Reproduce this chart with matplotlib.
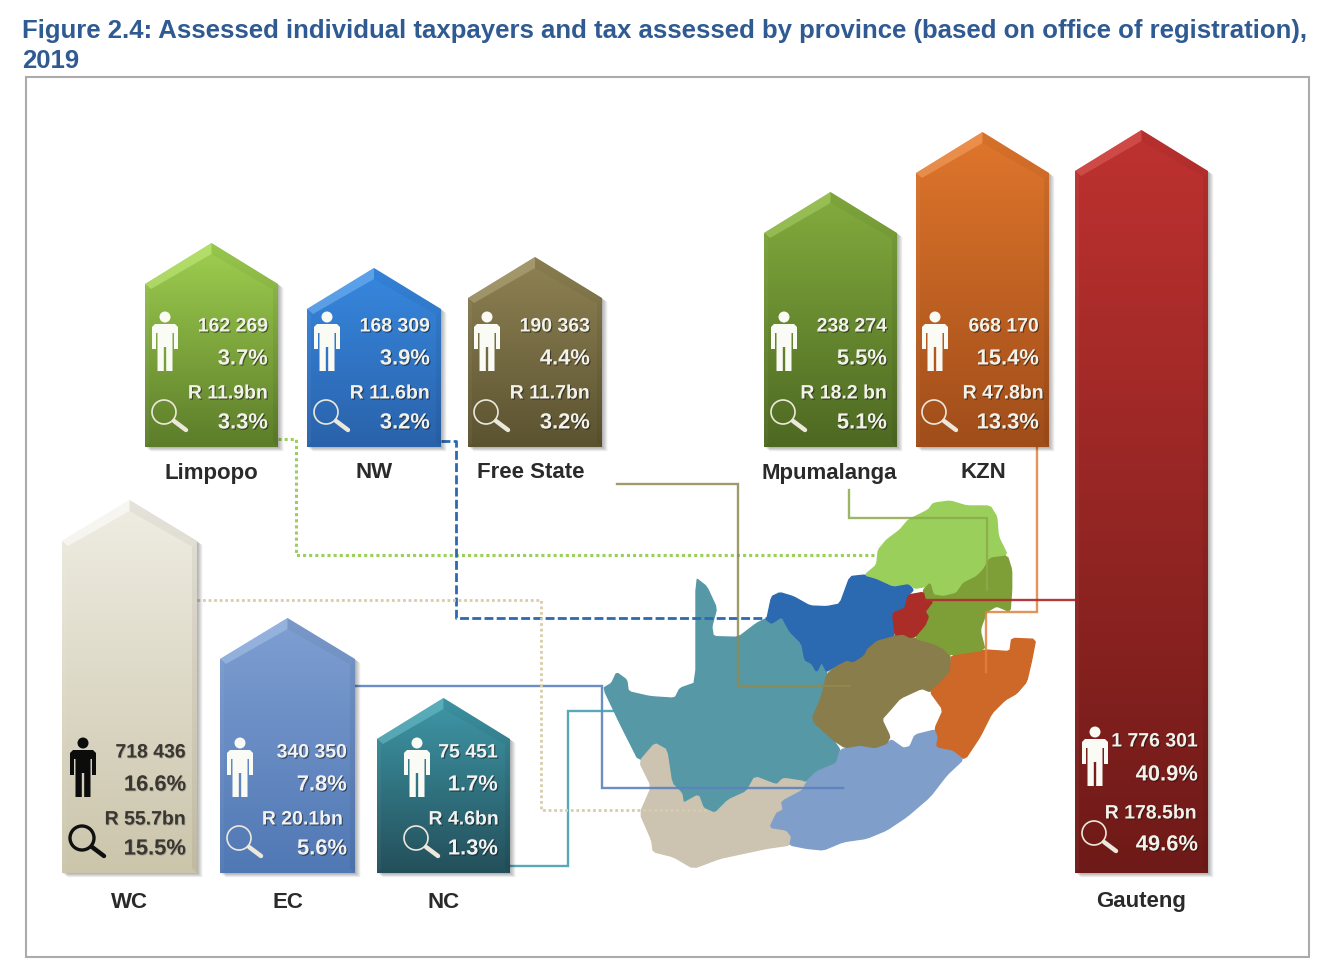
import numpy as np
import matplotlib
matplotlib.use("Agg")
import matplotlib.pyplot as plt
import matplotlib.patheffects as pe
from matplotlib.colors import LinearSegmentedColormap
from matplotlib.patches import Polygon, Circle

plt.rcParams['font.family'] = ['Liberation Sans', 'DejaVu Sans']

# ---------- data ----------
provinces = ["Limpopo", "NW", "Free State", "Mpumalanga", "KZN", "Gauteng", "WC", "EC", "NC"]
taxpayers = ["162 269", "168 309", "190 363", "238 274", "668 170", "1 776 301", "718 436", "340 350", "75 451"]
taxpayer_share = [3.7, 3.9, 4.4, 5.5, 15.4, 40.9, 16.6, 7.8, 1.7]
tax_assessed = ["R 11.9bn", "R 11.6bn", "R 11.7bn", "R 18.2 bn", "R 47.8bn", "R 178.5bn", "R 55.7bn", "R 20.1bn", "R 4.6bn"]
tax_share = [3.3, 3.2, 3.2, 5.1, 13.3, 49.6, 15.5, 5.6, 1.3]
title_lines = ["Figure 2.4: Assessed individual taxpayers and tax assessed by province (based on office of registration),", "2019"]

# ---------- layout (pixels) ----------
W, H = 1330, 964
lefts = [145, 307, 468, 764, 916, 1075, 62, 220, 377]
rights = [278, 441, 602, 897, 1049, 1208, 197, 355, 510]
apexes = [243, 268, 257, 192, 132, 130, 500, 618, 698]
bottoms = [447, 447, 447, 447, 447, 873, 873, 873, 873]
person_x = [165, 327, 487, 784, 935, 1095, 83, 240, 417]
text_right = [268, 430, 590, 887, 1039, 1198, 186, 347, 498]
tax_right = [268, 430, 590, 887, 1044, 1197, 186, 343, 499]
tops = ['#9FD050', '#3788E0', '#8F8354', '#83AD3E', '#E0762C', '#BE3230', '#EFEDE3', '#7F9FD2', '#3F98A8']
bots = ['#5C7C2A', '#2A62AA', '#5B5230', '#4D6822', '#A04D1A', '#6E1A18', '#CBC5AB', '#5078B4', '#234F5A']
light = ['#C4EC80', '#7AB8F4', '#B5AA80', '#AAD068', '#F6A468', '#DE605A', '#FFFFFF', '#A8C4E8', '#70C0CC']
text_col = ['#F2F2EA'] * 6 + ['#3A3630'] + ['#F2F2F2'] * 2

# Map outlines, in zoomed-crop coordinates
map_regions = {
 'NC': ('#5698A6', [(288,295),(320,320),(350,385),(335,440),(340,470),(415,472),(470,430),(500,415),(540,410),(570,455),(605,490),(615,540),(635,550),(650,575),(665,545),(680,575),(680,585),(665,650),(635,720),(700,780),(720,810),(710,850),(650,875),(620,905),(550,895),(530,915),(465,890),(440,935),(385,960),(345,1000),(310,985),(295,945),(250,970),(245,940),(215,910),(200,810),(165,790),(118,845),(60,730),(10,625),(35,610),(50,578),(80,600),(85,635),(150,650),(225,655),(240,625),(288,608)]),
 'WC': ('#CCC3B0', [(118,845),(165,790),(200,810),(215,910),(245,940),(250,970),(295,945),(310,985),(345,1000),(385,960),(440,935),(465,890),(530,915),(550,895),(615,905),(610,930),(545,965),(550,990),(530,1000),(510,1042),(560,1050),(575,1070),(570,1095),(500,1105),(430,1120),(360,1135),(280,1165),(220,1130),(160,1115),(155,1080),(120,1000),(155,920)]),
 'EC': ('#7F9EC9', [(1005,750),(1015,770),(1010,800),(1060,810),(1090,838),(1040,885),(990,950),(920,1010),(860,1050),(800,1075),(730,1085),(670,1110),(620,1105),(570,1095),(575,1070),(560,1050),(510,1042),(530,1000),(550,990),(545,965),(610,930),(620,905),(650,875),(710,850),(720,810),(780,795),(825,803),(860,790),(875,780),(910,805),(930,800),(945,765)]),
 'FS': ('#897D4B', [(680,585),(710,555),(740,540),(760,545),(790,525),(800,505),(830,480),(885,465),(910,462),(930,472),(945,475),(1000,490),(1030,505),(1050,525),(1052,575),(1020,610),(990,635),(965,625),(900,655),(870,690),(845,718),(870,770),(860,790),(825,803),(780,795),(735,803),(700,780),(635,720),(665,650)]),
 'KZN': ('#CD6828', [(1055,525),(1155,510),(1230,515),(1235,475),(1307,478),(1295,540),(1280,605),(1250,640),(1215,660),(1175,700),(1140,770),(1095,838),(1060,810),(1010,800),(1015,770),(1005,745),(1030,690),(990,635),(1020,610),(1052,575)]),
 'NW': ('#2B69B1', [(500,420),(515,350),(540,338),(580,350),(630,378),(680,380),(720,372),(750,290),(795,285),(830,295),(880,318),(925,310),(940,330),(925,345),(915,385),(878,400),(885,465),(830,480),(800,505),(790,525),(760,545),(740,540),(710,555),(680,575),(665,545),(650,575),(635,550),(615,540),(605,490),(570,455),(545,410),(515,430)]),
 'LP': ('#9BCF5C', [(795,285),(830,255),(835,210),(860,180),(900,150),(925,120),(985,90),(1000,70),(1050,63),(1100,78),(1170,78),(1190,110),(1195,170),(1222,225),(1170,235),(1150,270),(1130,290),(1090,310),(1070,340),(1030,350),(1000,345),(990,310),(975,320),(945,325),(925,310),(880,318),(830,295)]),
 'MP': ('#7E9E38', [(1222,228),(1235,270),(1235,330),(1230,395),(1190,378),(1160,395),(1140,450),(1155,510),(1050,525),(1030,505),(1000,490),(945,475),(975,430),(985,410),(975,395),(998,365),(975,355),(970,330),(990,310),(1000,345),(1030,350),(1070,340),(1090,310),(1130,290),(1150,270),(1170,235)]),
 'GP': ('#AA2D28', [(925,345),(970,337),(975,358),(998,365),(975,395),(985,410),(975,435),(945,470),(930,472),(910,462),(885,465),(878,400),(915,385)]),
}

# Connector routes from each house to its province
connectors = [
 ([(278,439),(296,439),(296,555),(877,555)], '#9BCF5C', (0,(1,1)), 1.0, 2.2),
 ([(441,441),(456,441),(456,618),(770,618)], '#2B69B1', (0,(3.2,1.2)), 1.0, 2.0),
 ([(617,484),(738,484),(738,686),(850,686)], '#8F8A50', '-', .85, 1.7),
 ([(849,490),(849,518),(987,518),(987,590)], '#8BAA4A', '-', .85, 1.7),
 ([(1037,447),(1037,612),(986,612),(986,672)], '#E0823C', '-', .85, 1.7),
 ([(1075,600),(925,600)], '#B03030', '-', .95, 1.7),
 ([(355,686),(602,686),(602,788),(843,788)], '#5C82BE', '-', .9, 1.7),
 ([(510,866),(568,866),(568,711),(615,711)], '#45A0B0', '-', .9, 1.7),
 ([(197,600),(541,600),(541,810),(708,810)], '#D8CDA8', (0,(1,1)), 1.0, 2.0),
]


def round_corners(pts, cut=.12):
    """Cut polygon corners slightly so the traced outlines look less angular."""
    p = np.asarray(pts, float)
    n = np.roll(p, -1, axis=0)
    return np.column_stack([(1 - cut) * p + cut * n, cut * p + (1 - cut) * n]).reshape(-1, 2)


fig = plt.figure(figsize=(W / 100, H / 100), dpi=100)
ax = fig.add_axes([0, 0, 1, 1])
ax.set_axis_off()

# Title and frame
for line, y in zip(title_lines, [31, 61]):
    ax.text(22, y, line, color='#2F5B92', fontsize=18.5, fontweight='bold', va='center', ha='left')
ax.add_patch(plt.Rectangle((25.5, 77), 1283, 880, fill=False, ec='#ABABAB', lw=1.5))

# Map
for name, (col, pts) in map_regions.items():
    xy = round_corners([(600 + x / 3, 480 + y / 3) for x, y in pts])
    ax.add_patch(Polygon(xy, closed=True, fc=col, ec=col, lw=1.0, joinstyle='round', zorder=2))

# Connectors
for pts, col, ls, a, lw in connectors:
    xs, ys = zip(*pts)
    ax.plot(xs, ys, color=col, ls=ls, lw=lw, alpha=a, zorder=3, solid_joinstyle='miter')

body = np.array([(-10,13),(10,13),(13,16),(13,38),(9,38),(9,22),(7.5,22),(7.5,60),(1.2,60),(1.2,36),(-1.2,36),(-1.2,60),
                 (-7.5,60),(-7.5,22),(-9,22),(-9,38),(-13,38),(-13,16)], float)
shadow_fx = [pe.SimplePatchShadow(offset=(.8, -.8), shadow_rgbFace='#111111', alpha=.55), pe.Normal()]
shadow_dk = [pe.SimplePatchShadow(offset=(.6, -.6), shadow_rgbFace='#777777', alpha=.5), pe.Normal()]

for i, name in enumerate(provinces):
    l, r, a, b = lefts[i], rights[i], apexes[i], bottoms[i]
    cx = (l + r) / 2
    sh = a + 41
    outline = [(l, b), (l, sh), (cx, a), (r, sh), (r, b)]
    # soft shadow
    for k in range(1, 7):
        ax.add_patch(Polygon([(x + k * .9, y + k * .7) for x, y in outline], fc='k', ec='none', alpha=.055, zorder=4))
    # gradient body
    cmap = LinearSegmentedColormap.from_list('h', [tops[i], bots[i]])
    grad = np.linspace(0, 1, 256).reshape(-1, 1)
    im = ax.imshow(grad, cmap=cmap, extent=(l, r, b, a), aspect='auto', zorder=5, origin='upper')
    clip = Polygon(outline, transform=ax.transData, fc='none', ec='none')
    ax.add_patch(clip)
    im.set_clip_path(clip)
    # bevels
    ax.add_patch(Polygon([(l, sh), (cx, a), (cx, a + 11), (l + 6, sh + 5)], fc=light[i], ec='none', alpha=.55, zorder=6))
    ax.add_patch(Polygon([(r, sh), (cx, a), (cx, a + 11), (r - 6, sh + 5)], fc='k', ec='none', alpha=.04, zorder=6))
    ax.add_patch(Polygon([(r, sh), (r, b), (r - 5, b - 5), (r - 5, sh + 5)], fc='k', ec='none', alpha=.05, zorder=6))
    ax.add_patch(Polygon([(l, sh), (l, b), (l + 4, b - 4), (l + 4, sh + 5)], fc='w', ec='none', alpha=.04, zorder=6))

    # rows of the text block and icons
    if name == "Gauteng":
        rows = [b - 131, b - 98, b - 59, b - 28]
        top, lens = b - 147, b - 40
    else:
        rows = [b - 120, b - 88, b - 53, b - 24]
        top, lens = b - 136, b - 35
    tc = text_col[i]
    fx = shadow_dk if name == "WC" else shadow_fx
    px = person_x[i]

    icon = '#0C0C0C' if name == "WC" else '#FBFBF6'
    ax.add_patch(Circle((px, top + 6), 5.5, fc=icon, ec='none', zorder=7))
    ax.add_patch(Polygon(body + [px, top], fc=icon, ec='none', zorder=7))
    ring = '#101010' if name == "WC" else '#EDE8DC'
    ax.add_patch(Circle((px - 1, lens), 12, fc='none', ec=ring, lw=2.4 if name == "WC" else 1.2, zorder=7))
    ax.plot([px + 9, px + 21], [lens + 9, lens + 18], color=ring, lw=3.2, solid_capstyle='round', zorder=7)

    ax.text(text_right[i], rows[0], taxpayers[i], color=tc, fontsize=14, fontweight='bold', ha='right', va='center', zorder=8, path_effects=fx)
    ax.text(text_right[i], rows[1], f"{taxpayer_share[i]}%", color=tc, fontsize=15.8, fontweight='bold', ha='right', va='center', zorder=8, path_effects=fx)
    ax.text(tax_right[i], rows[2], tax_assessed[i], color=tc, fontsize=14, fontweight='bold', ha='right', va='center', zorder=8, path_effects=fx)
    ax.text(text_right[i], rows[3], f"{tax_share[i]}%", color=tc, fontsize=15.8, fontweight='bold', ha='right', va='center', zorder=8, path_effects=fx)

    # province label
    lx = {"Limpopo": 211, "NW": 374, "Free State": 531, "Mpumalanga": 829, "KZN": 983}.get(name, cx)
    ly = 473 if b < 800 else 902
    ax.text(lx, ly, name, color='#2A2A2A', fontsize=16, fontweight='bold', ha='center', va='center', zorder=8)

ax.set_xlim(0, W)
ax.set_ylim(H, 0)
fig.savefig('out.png', dpi=100, facecolor='white')
